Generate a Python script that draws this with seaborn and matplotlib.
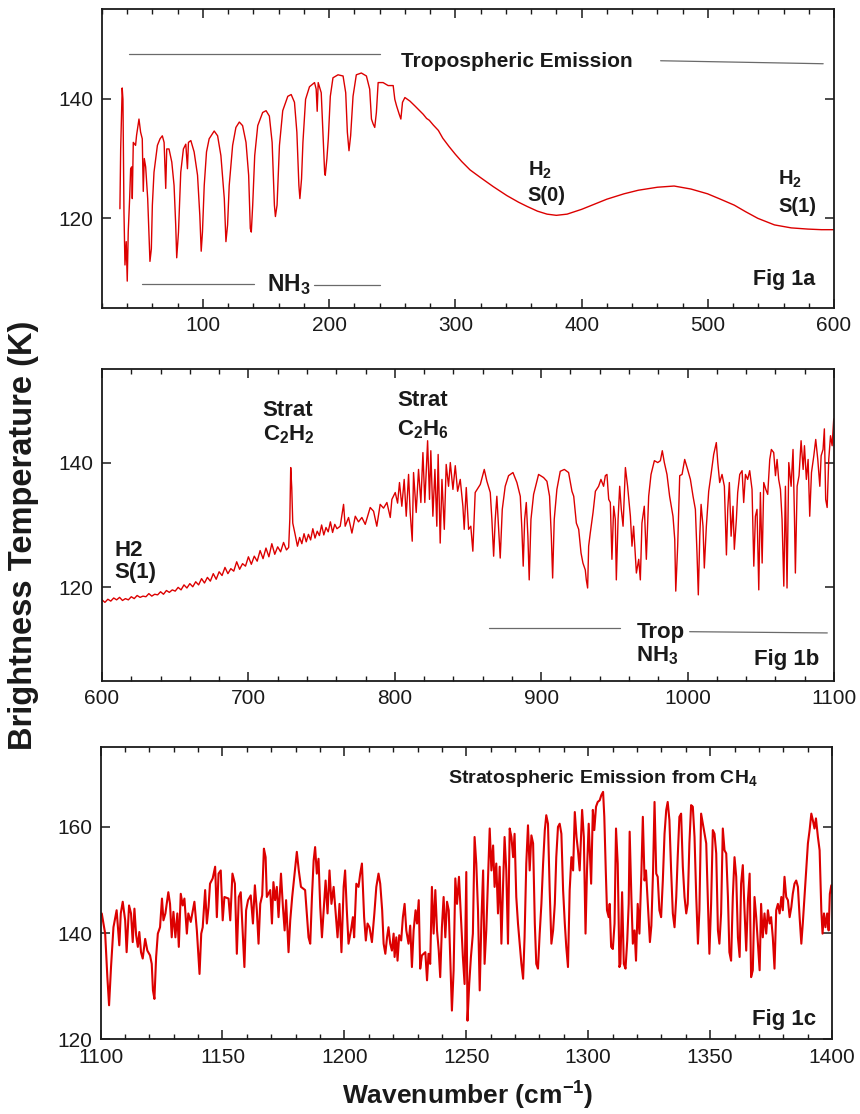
import matplotlib
matplotlib.use("Agg")
import matplotlib.pyplot as plt
from matplotlib.ticker import MultipleLocator, FixedLocator
import seaborn as sns

# ---------------------------------------------------------------------------
# Spectrum samples (wavenumber in cm^-1, brightness temperature in K)
# ---------------------------------------------------------------------------

# Fig 1a: far-infrared, NH3 rotational lines and the H2 S(0)/S(1) region
wn_a = [34.2, 34.8, 35.5, 36.0, 36.6, 37.4, 38.2, 39.2, 40.0, 40.8, 41.9, 42.7,
        43.5, 44.0, 44.8, 46.6, 47.4, 49.3, 50.6, 51.9, 52.7, 53.5, 54.6, 56.2,
        57.2, 58.0, 59.1, 59.9, 61.2, 63.9, 66.0, 67.8, 69.2, 70.5, 71.3, 73.1,
        75.3, 77.1, 78.4, 79.2, 80.6, 82.4, 84.5, 86.4, 87.7, 88.5, 90.4, 93.0,
        95.7, 97.5, 98.6, 99.6, 101.0, 102.8, 104.9, 108.9, 111.6, 114.2, 116.9,
        118.2, 119.5, 120.8, 123.5, 126.1, 128.8, 131.4, 134.1, 136.2, 137.5,
        138.3, 139.4, 141.0, 143.4, 147.3, 150.0, 152.6, 154.8, 156.6, 157.4,
        158.7, 160.6, 163.2, 167.2, 169.9, 172.5, 174.4, 176.0, 176.8, 178.1,
        179.2, 181.3, 184.4, 188.4, 189.7, 190.5, 191.3, 193.7, 195.0, 196.4,
        196.9, 198.2, 199.3, 200.9, 203.0, 207.0, 211.0, 213.1, 214.4, 215.7,
        217.0, 218.9, 221.5, 225.5, 229.5, 232.1, 233.5, 234.8, 236.1, 237.4,
        238.8, 242.7, 246.7, 250.7, 252.0, 253.4, 255.5, 256.8, 258.1, 260.0,
        264.0, 267.9, 274.5, 277.2, 279.3, 282.5, 286.5, 290.0, 295.0, 300.0,
        305.0, 311.6, 320.0, 330.0, 340.8, 350.0, 356.7, 365.0, 372.6, 380.0,
        388.5, 400.0, 407.1, 420.0, 433.6, 445.0, 460.1, 473.3, 486.6, 499.8,
        510.0, 521.0, 530.0, 539.6, 552.8, 566.1, 579.3, 590.0, 600.0]
tb_a = [121.6, 131.6, 137.4, 141.8, 139.9, 121.1, 112.2, 116.1, 109.5, 117.8,
        123.3, 128.3, 128.6, 123.3, 132.7, 132.2, 133.9, 136.6, 134.4, 133.3,
        124.5, 130.0, 128.6, 123.3, 117.7, 112.8, 114.9, 122.2, 127.7, 132.2,
        133.3, 133.8, 132.7, 125.0, 131.6, 131.6, 129.4, 125.5, 118.9, 113.4,
        117.7, 127.7, 131.6, 132.4, 128.3, 132.7, 133.0, 131.1, 127.2, 120.5,
        114.5, 117.7, 125.5, 131.1, 133.3, 134.6, 133.8, 130.5, 123.3, 116.1,
        118.9, 125.5, 132.2, 135.2, 136.1, 135.5, 132.7, 127.2, 118.3, 117.7,
        122.2, 130.5, 135.5, 137.7, 138.0, 137.1, 132.7, 122.2, 120.3, 122.2,
        132.2, 138.0, 140.4, 140.7, 139.4, 134.4, 125.5, 123.3, 126.6, 132.7,
        139.9, 142.0, 142.7, 141.6, 137.9, 142.7, 141.0, 134.4, 127.7, 127.2,
        130.0, 133.3, 140.4, 143.5, 144.0, 143.8, 141.0, 134.4, 131.3, 133.8,
        140.4, 144.0, 144.3, 143.8, 141.6, 136.6, 135.8, 135.2, 137.7, 142.7,
        142.7, 142.2, 142.2, 139.9, 138.8, 137.4, 136.6, 139.4, 140.2, 139.6,
        138.8, 137.4, 136.7, 136.4, 135.6, 134.7, 133.4, 132.0, 130.7,
        129.5, 128.1, 126.8, 125.3, 123.8, 122.7, 122.0, 121.2, 120.7, 120.5,
        120.7, 121.5, 122.1, 123.2, 124.1, 124.7, 125.2, 125.4, 124.9, 124.1,
        123.2, 122.2, 121.1, 120.0, 118.9, 118.4, 118.2, 118.1, 118.1]

# Fig 1b: mid-infrared, C2H2 / C2H6 emission and tropospheric NH3 absorption
wn_b = [600.0, 602.0, 604.0, 606.0, 608.0, 610.0, 612.0, 614.0, 616.0, 618.0,
        620.0, 622.0, 624.0, 626.0, 628.0, 630.0, 632.0, 634.0, 636.0, 638.0,
        640.0, 642.0, 644.0, 646.0, 648.0, 650.0, 652.0, 654.0, 656.0, 658.0,
        660.0, 662.0, 664.0, 666.0, 668.0, 670.0, 672.0, 674.0, 676.0, 678.0,
        680.0, 682.0, 684.0, 686.0, 688.0, 690.0, 692.0, 694.0, 696.0, 698.0,
        700.0, 702.0, 704.0, 706.0, 708.0, 710.0, 712.0, 714.0, 716.0, 718.0,
        720.0, 722.0, 724.0, 726.0, 727.5, 728.3, 728.9, 729.6, 730.3, 731.9,
        733.5, 735.0, 736.5, 738.0, 739.5, 741.0, 742.5, 744.0, 745.5, 747.0,
        748.5, 750.0, 751.5, 753.0, 754.5, 756.0, 757.5, 759.0, 760.5, 762.7,
        765.0, 766.1, 768.4, 770.7, 773.0, 775.2, 777.5, 779.8, 783.2, 785.5,
        787.7, 790.0, 792.3, 794.6, 796.9, 798.0, 800.3, 801.9, 803.2, 804.8,
        806.4, 807.8, 809.4, 810.5, 811.9, 812.8, 814.6, 816.2, 817.8, 819.2,
        820.5, 822.4, 823.7, 824.6, 826.0, 827.4, 828.7, 829.6, 831.0, 832.2,
        833.8, 835.1, 836.7, 837.9, 839.7, 841.3, 842.9, 844.7, 846.5, 847.4,
        848.8, 850.4, 851.9, 853.3, 854.9, 858.4, 861.1, 862.9, 865.2, 866.3,
        867.5, 868.6, 869.7, 870.9, 872.0, 873.4, 875.4, 877.7, 880.7, 883.4,
        885.7, 886.8, 887.7, 888.7, 889.8, 890.9, 891.8, 893.0, 894.8, 898.2,
        901.6, 903.9, 905.7, 906.9, 907.8, 908.9, 910.7, 913.0, 915.8, 918.7,
        921.0, 922.2, 924.0, 925.6, 927.2, 928.5, 930.1, 930.8, 931.7, 932.4,
        933.5, 935.4, 937.0, 939.2, 940.8, 942.6, 943.8, 944.9, 946.1, 947.2,
        948.3, 949.5, 950.6, 951.3, 952.5, 953.6, 954.7, 955.9, 957.5, 959.0,
        960.9, 962.0, 963.1, 965.0, 966.6, 967.7, 968.8, 970.4, 971.8, 973.4,
        975.0, 977.3, 979.6, 981.4, 982.7, 984.1, 985.9, 987.7, 990.0, 991.2,
        991.9, 993.2, 994.6, 996.2, 998.0, 1000.0, 1001.9, 1003.7, 1005.3,
        1006.4, 1007.3, 1008.3, 1009.2, 1010.5, 1011.4, 1012.8, 1014.4, 1016.0,
        1017.8, 1019.6, 1020.6, 1021.9, 1023.5, 1025.1, 1026.5, 1027.4, 1028.5,
        1029.7, 1031.0, 1031.9, 1033.3, 1034.2, 1035.6, 1037.2, 1038.3, 1039.5,
        1041.0, 1042.4, 1044.0, 1045.2, 1046.3, 1047.4, 1048.6, 1049.7, 1050.9,
        1052.0, 1053.4, 1054.7, 1056.1, 1057.2, 1058.8, 1060.0, 1061.1, 1062.2,
        1063.4, 1064.5, 1065.7, 1066.8, 1067.9, 1069.1, 1070.7, 1072.0, 1073.0,
        1073.6, 1074.8, 1076.1, 1077.5, 1078.9, 1079.8, 1081.1, 1082.3, 1083.4,
        1084.6, 1086.2, 1087.5, 1088.9, 1090.3, 1091.2, 1092.5, 1093.4, 1094.3,
        1095.3, 1096.4, 1097.6, 1098.7, 1099.8]
tb_b = [118.0, 117.6, 118.1, 117.8, 118.3, 118.0, 118.4, 117.9, 118.2, 118.0,
        118.5, 118.2, 118.7, 118.4, 118.6, 118.5, 119.0, 118.6, 118.9, 118.8,
        119.3, 118.9, 119.5, 119.2, 119.6, 119.4, 120.0, 119.6, 120.4, 119.9,
        120.6, 120.1, 120.9, 120.4, 121.4, 120.7, 121.6, 121.0, 122.2, 121.3,
        122.5, 121.9, 123.2, 122.2, 123.0, 122.6, 124.1, 122.9, 123.8, 123.4,
        124.9, 123.7, 125.0, 124.2, 125.9, 124.6, 126.3, 124.9, 127.0, 125.3,
        126.5, 125.7, 127.2, 126.0, 126.4, 131.0, 139.2, 136.0, 130.3, 128.5,
        126.6, 128.0, 127.0, 128.6, 127.3, 128.5, 127.6, 129.4, 127.9, 129.0,
        128.3, 130.0, 128.4, 129.6, 128.9, 130.5, 128.8, 130.1, 129.4, 129.8,
        133.3, 129.8, 131.2, 128.7, 131.4, 130.5, 131.2, 130.1, 132.8, 132.2,
        129.8, 133.3, 132.7, 133.6, 131.2, 134.1, 135.2, 133.5, 136.8, 133.0,
        137.3, 131.4, 138.1, 132.0, 127.4, 138.4, 132.0, 138.9, 133.6, 141.6,
        133.6, 143.5, 134.1, 141.9, 131.4, 138.9, 129.8, 141.3, 127.1, 137.3,
        129.3, 139.7, 136.2, 140.0, 135.7, 139.5, 135.4, 137.3, 133.0, 129.3,
        136.0, 129.3, 129.8, 125.8, 135.2, 136.5, 138.9, 137.0, 135.2, 130.9,
        125.0, 130.9, 134.6, 129.3, 124.7, 132.5, 136.2, 137.9, 138.4, 136.8,
        134.6, 129.3, 123.4, 130.9, 133.6, 128.2, 121.2, 130.9, 134.9, 138.1,
        137.6, 137.0, 134.6, 128.2, 121.5, 130.9, 135.7, 138.6, 138.9, 138.4,
        135.4, 134.6, 130.3, 129.3, 125.5, 123.9, 122.8, 121.2, 119.9, 126.6,
        128.7, 132.0, 135.4, 136.2, 137.3, 136.2, 137.9, 138.1, 134.1, 133.6,
        124.5, 133.0, 130.9, 121.2, 130.9, 136.2, 132.5, 129.8, 139.2, 136.2,
        131.4, 126.6, 129.8, 122.3, 124.5, 121.2, 130.3, 133.0, 124.5, 134.6,
        138.1, 140.3, 140.0, 140.3, 141.9, 140.0, 138.1, 134.6, 131.4, 127.7,
        119.4, 126.6, 137.9, 138.1, 140.5, 138.9, 137.3, 134.6, 132.5,
        125.5, 118.8, 128.2, 133.3, 129.8, 123.1, 129.8, 135.4, 138.1,
        141.3, 143.2, 140.0, 136.8, 138.1, 136.2, 125.2, 132.5, 136.8,
        128.2, 133.0, 126.1, 130.9, 135.2, 138.1, 138.7, 133.6, 138.1,
        137.3, 138.7, 135.7, 123.4, 131.4, 132.5, 119.6, 135.2, 123.9,
        136.8, 135.7, 134.9, 140.5, 142.1, 141.6, 137.9, 140.5, 137.3,
        135.7, 130.9, 120.2, 136.2, 119.9, 140.0, 136.2, 142.1, 130.9,
        122.3, 136.2, 137.9, 143.5, 138.9, 142.7, 137.3, 140.5, 131.4,
        138.4, 141.1, 143.7, 140.5, 136.2, 141.1, 142.1, 145.4, 134.1,
        132.8, 140.5, 144.3, 142.7, 147.0]

# Fig 1c: CH4 band emission from the stratosphere
wn_c = [1100.5, 1101.9, 1102.8, 1103.5, 1104.3, 1105.3, 1106.6, 1107.7, 1108.3,
        1109.1, 1110.1, 1110.7, 1111.7, 1112.5, 1113.2, 1113.9, 1114.6, 1115.3,
        1115.9, 1116.6, 1117.3, 1118.3, 1119.2, 1120.3, 1121.0, 1121.5, 1122.1,
        1122.8, 1123.5, 1124.4, 1125.2, 1125.8, 1126.6, 1127.8, 1128.5, 1129.2,
        1129.9, 1130.7, 1131.5, 1132.1, 1132.9, 1133.7, 1134.4, 1135.4, 1136.0,
        1137.0, 1138.5, 1139.5, 1140.6, 1141.3, 1141.9, 1142.9, 1143.6, 1144.3,
        1144.9, 1146.0, 1147.0, 1147.7, 1148.4, 1149.3, 1150.1, 1150.8, 1152.5,
        1153.2, 1154.1, 1155.1, 1155.9, 1156.7, 1157.5, 1158.2, 1159.0, 1159.7,
        1160.5, 1161.6, 1162.5, 1163.3, 1164.1, 1164.8, 1165.5, 1166.3, 1167.0,
        1167.7, 1168.2, 1169.6, 1170.3, 1170.9, 1171.6, 1172.3, 1173.0, 1174.0,
        1174.8, 1175.5, 1176.1, 1177.1, 1177.8, 1178.6, 1179.4, 1180.5, 1181.3,
        1182.2, 1183.9, 1184.6, 1185.3, 1186.0, 1186.7, 1187.4, 1188.0, 1188.7,
        1189.4, 1190.1, 1190.8, 1191.5, 1192.3, 1193.1, 1193.9, 1194.7, 1195.6,
        1197.2, 1198.0, 1198.8, 1199.7, 1200.3, 1201.0, 1201.7, 1202.7, 1203.5,
        1204.0, 1204.9, 1205.8, 1206.5, 1207.2, 1208.1, 1208.8, 1209.5, 1210.3,
        1211.3, 1212.3, 1213.1, 1214.0, 1214.7, 1215.5, 1216.1, 1216.8, 1217.5,
        1218.1, 1218.8, 1219.5, 1220.2, 1220.6, 1221.3, 1221.8, 1222.5, 1223.3,
        1224.0, 1224.7, 1225.4, 1226.3, 1227.0, 1227.7, 1228.4, 1229.2, 1229.8,
        1230.5, 1231.1, 1231.8, 1233.2, 1233.9, 1234.5, 1235.2, 1235.9, 1236.6,
        1237.3, 1238.0, 1238.7, 1239.3, 1240.0, 1240.7, 1241.4, 1242.1, 1242.8,
        1243.4, 1244.1, 1244.8, 1245.5, 1246.2, 1247.0, 1247.8, 1248.6, 1249.3,
        1250.0, 1250.5, 1251.2, 1251.9, 1252.7, 1253.4, 1254.1, 1254.8, 1255.5,
        1256.2, 1256.9, 1257.5, 1258.2, 1258.9, 1259.6, 1260.3, 1261.0, 1261.6,
        1262.3, 1263.0, 1263.7, 1264.4, 1265.1, 1265.7, 1266.4, 1267.1, 1267.8,
        1268.5, 1269.2, 1269.8, 1270.5, 1271.2, 1271.9, 1272.6, 1273.3, 1273.9,
        1274.6, 1275.3, 1276.0, 1276.7, 1277.4, 1278.1, 1278.7, 1279.4, 1280.1,
        1280.8, 1281.5, 1282.2, 1282.8, 1283.5, 1284.2, 1284.9, 1285.6, 1286.3,
        1286.9, 1287.6, 1288.3, 1289.0, 1289.7, 1290.4, 1291.0, 1291.7, 1292.4,
        1293.1, 1293.8, 1294.5, 1295.2, 1295.8, 1296.5, 1297.5, 1298.2, 1298.9,
        1299.5, 1300.2, 1301.2, 1301.9, 1302.5, 1303.2, 1303.9, 1304.7, 1305.4,
        1306.1, 1306.6, 1307.2, 1307.7, 1308.4, 1308.8, 1309.4, 1310.1, 1310.8,
        1311.4, 1312.1, 1312.8, 1313.2, 1313.9, 1314.6, 1315.3, 1316.0, 1316.6,
        1317.0, 1317.7, 1318.3, 1319.0, 1319.6, 1320.3, 1321.0, 1321.8, 1322.4,
        1323.1, 1323.7, 1324.6, 1325.3, 1325.9, 1326.6, 1327.2, 1327.9, 1328.5,
        1329.2, 1329.9, 1330.6, 1331.3, 1332.0, 1332.6, 1333.3, 1334.0, 1334.7,
        1335.4, 1336.1, 1336.7, 1337.4, 1338.1, 1338.8, 1339.5, 1340.2, 1340.8,
        1341.5, 1342.2, 1342.9, 1343.6, 1344.3, 1345.0, 1345.6, 1346.3, 1347.0,
        1347.7, 1348.4, 1349.1, 1349.7, 1350.4, 1351.1, 1351.8, 1352.5, 1353.2,
        1353.8, 1354.5, 1355.2, 1355.9, 1356.6, 1357.3, 1357.9, 1358.6, 1359.3,
        1360.0, 1360.7, 1361.4, 1362.1, 1362.7, 1363.4, 1364.1, 1364.8, 1365.5,
        1366.2, 1366.8, 1367.5, 1368.2, 1368.9, 1369.6, 1370.3, 1370.9, 1371.6,
        1372.3, 1373.0, 1373.7, 1374.4, 1375.0, 1375.7, 1376.4, 1377.1, 1377.8,
        1378.5, 1379.2, 1379.8, 1380.5, 1381.2, 1381.9, 1382.6, 1383.3, 1383.9,
        1384.6, 1385.3, 1386.0, 1386.7, 1387.4, 1388.0, 1388.7, 1389.4, 1390.1,
        1390.8, 1391.5, 1392.1, 1392.8, 1393.4, 1394.2, 1394.9, 1395.6, 1396.1,
        1396.7, 1397.3, 1398.0, 1398.6, 1399.1, 1399.7, 1400.2]
tb_c = [143.7, 139.9, 131.7, 126.4, 133.6, 141.1, 144.3, 137.7, 143.7,
        145.9, 142.4, 136.4, 145.2, 143.7, 138.3, 144.6, 139.6, 137.4,
        140.2, 136.4, 135.2, 138.9, 136.7, 135.8, 134.2, 129.2, 127.6,
        135.5, 139.9, 141.1, 146.5, 142.4, 143.7, 147.7, 145.5, 139.2,
        144.0, 139.2, 143.7, 137.4, 147.4, 145.2, 146.5, 139.9, 143.7,
        142.1, 145.9, 140.5, 132.3, 139.9, 141.1, 148.1, 141.8, 144.9,
        149.3, 150.3, 152.5, 143.0, 151.2, 151.8, 142.4, 146.8, 146.5,
        142.4, 151.2, 149.3, 136.1, 146.8, 147.7, 141.1, 133.6, 144.3,
        146.2, 147.1, 141.8, 149.0, 144.3, 138.0, 145.5, 147.1, 155.9,
        154.3, 146.8, 148.1, 141.8, 149.6, 146.2, 148.7, 143.0, 151.2,
        144.9, 140.5, 146.2, 136.4, 142.4, 146.8, 150.3, 155.3, 151.8,
        148.7, 148.1, 143.7, 139.2, 138.0, 146.8, 153.7, 156.2, 151.2,
        154.0, 144.9, 139.2, 144.3, 149.9, 143.7, 151.8, 145.5, 148.7,
        139.2, 145.5, 136.4, 148.7, 151.8, 144.3, 138.0, 140.5, 143.0,
        139.2, 149.3, 148.7, 151.2, 153.1, 143.0, 138.6, 141.8, 141.1,
        138.3, 143.7, 148.7, 151.2, 149.3, 144.3, 138.0, 136.1, 139.2,
        141.1, 138.0, 136.7, 139.9, 135.5, 139.2, 134.8, 139.6, 138.6,
        143.0, 145.5, 140.5, 138.0, 141.4, 133.6, 140.5, 144.3, 141.8,
        146.2, 133.3, 135.8, 136.4, 131.1, 136.1, 134.2, 148.7, 139.9,
        148.1, 140.5, 136.7, 131.7, 141.1, 146.8, 139.2, 145.9, 144.3,
        135.5, 125.4, 133.0, 150.3, 145.5, 150.6, 143.0, 135.5, 130.4,
        151.5, 123.5, 130.4, 135.5, 139.9, 158.1, 153.1, 144.3, 129.2,
        142.4, 151.8, 134.2, 140.5, 149.9, 159.7, 151.8, 156.5, 148.7,
        153.1, 143.7, 152.5, 138.0, 149.3, 158.1, 151.8, 138.0, 159.7,
        158.1, 154.3, 158.7, 146.8, 141.8, 138.0, 134.2, 131.4, 139.2,
        153.1, 160.3, 151.8, 158.4, 156.9, 141.8, 134.2, 133.3, 139.9,
        145.5, 153.1, 159.4, 162.2, 160.6, 148.1, 138.0, 140.5, 145.5,
        154.3, 160.0, 160.6, 158.7, 148.1, 141.8, 137.4, 133.6, 148.1,
        154.3, 151.8, 162.8, 158.1, 155.6, 151.8, 163.2, 158.1, 139.9,
        151.8, 160.6, 149.3, 163.2, 159.4, 163.8, 164.7, 165.0, 166.0,
        166.6, 161.9, 151.8, 144.3, 143.0, 145.5, 137.4, 137.0, 141.8,
        159.7, 153.1, 133.6, 134.2, 147.7, 134.2, 133.3, 138.6, 145.5,
        159.1, 146.8, 138.0, 140.5, 134.8, 145.5, 139.9, 151.2, 161.9,
        149.9, 151.8, 144.3, 138.3, 141.4, 151.8, 164.7, 151.2, 150.6,
        144.3, 143.0, 149.9, 158.7, 163.2, 164.7, 161.3, 151.8, 143.7,
        141.1, 146.8, 154.3, 161.9, 162.5, 152.5, 146.8, 143.7, 145.5,
        156.9, 164.1, 163.8, 158.1, 146.8, 138.0, 144.3, 162.5, 160.6,
        158.7, 156.9, 145.5, 136.1, 145.5, 159.4, 158.7, 155.0, 140.5,
        138.0, 143.7, 159.7, 155.6, 155.0, 146.8, 136.4, 134.8, 146.8,
        154.3, 150.6, 139.2, 135.5, 149.3, 152.8, 144.3, 136.7, 146.2,
        151.2, 131.7, 133.0, 146.8, 143.0, 138.0, 133.0, 145.5, 139.2,
        143.7, 139.9, 144.3, 141.8, 143.0, 139.2, 133.3, 144.3, 145.5,
        143.7, 146.8, 144.3, 150.6, 146.8, 146.2, 143.0, 144.9, 147.4,
        149.3, 149.9, 148.7, 143.0, 138.0, 141.8, 146.8, 151.8, 156.9,
        159.4, 162.5, 161.3, 159.7, 161.6, 158.1, 155.6, 144.3, 139.9,
        143.7, 141.1, 143.7, 140.5, 147.4, 149.0, 147.4]

# Axis tick values
yticks_ab = [120, 140]
yticks_c = [120, 140, 160]

RED = "#dc0000"
INK = "#1a1a1a"
GUIDE = "#6a6a6a"

sns.set_style("ticks")
plt.rcParams["font.family"] = ["Liberation Sans", "DejaVu Sans"]
plt.rcParams["mathtext.fontset"] = "custom"
plt.rcParams["mathtext.rm"] = "Liberation Sans:bold"
plt.rcParams["mathtext.it"] = "Liberation Sans:bold"
plt.rcParams["mathtext.bf"] = "Liberation Sans:bold"
plt.rcParams["mathtext.default"] = "rm"

fig = plt.figure(figsize=(8.6, 11.14), dpi=100)
ax_a = fig.add_axes([0.1186, 0.7235, 0.8512, 0.2684])
ax_b = fig.add_axes([0.1186, 0.3887, 0.8512, 0.2801])
ax_c = fig.add_axes([0.1169, 0.0671, 0.8506, 0.2621])


def style_axis(ax, xlim, ylim, xmajor, xminor, yticks):
    ax.set_xlim(*xlim)
    ax.set_ylim(*ylim)
    ax.xaxis.set_major_locator(MultipleLocator(xmajor))
    ax.xaxis.set_minor_locator(MultipleLocator(xminor))
    ax.yaxis.set_major_locator(FixedLocator(yticks))
    ax.tick_params(which="both", direction="in", top=True, right=True,
                   color=INK, labelcolor=INK)
    ax.tick_params(which="major", length=6.5, width=1.1, labelsize=15, pad=6)
    ax.tick_params(which="minor", length=3.8, width=1.0)
    for spine in ax.spines.values():
        spine.set_linewidth(1.3)
        spine.set_color(INK)
    ax.set_xlabel("")
    ax.set_ylabel("")


def bold(ax, x, y, s, size, ha="left"):
    ax.text(x, y, s, ha=ha, va="baseline", fontsize=size,
            fontweight="bold", color=INK)


# ---- Fig 1a ----------------------------------------------------------------
sns.lineplot(x=wn_a, y=tb_a, ax=ax_a, color=RED, lw=1.0,
             estimator=None, sort=False)
style_axis(ax_a, (20, 600), (105, 155), 100, 20, yticks_ab)
ax_a.plot([41.3, 240.0], [147.5, 147.5], color=GUIDE, lw=0.9)
ax_a.plot([462.6, 591.4], [146.35, 145.85], color=GUIDE, lw=0.9)
bold(ax_a, 349.0, 145.25, "Tropospheric Emission", 15, ha="center")
ax_a.plot([51.9, 140.7], [109.1, 109.1], color=GUIDE, lw=0.9)
ax_a.plot([187.6, 240.6], [108.8, 108.8], color=GUIDE, lw=0.9)
bold(ax_a, 167.9, 107.9, "NH$_3$", 16.5, ha="center")
bold(ax_a, 357.2, 127.2, "H$_2$", 14.5)
bold(ax_a, 357.2, 122.9, "S(0)", 14.5)
bold(ax_a, 555.9, 125.6, "H$_2$", 14.5)
bold(ax_a, 555.9, 121.1, "S(1)", 14.5)
bold(ax_a, 585.0, 108.9, "Fig 1a", 15.5, ha="right")

# ---- Fig 1b ----------------------------------------------------------------
sns.lineplot(x=wn_b, y=tb_b, ax=ax_b, color=RED, lw=1.0,
             estimator=None, sort=False)
style_axis(ax_b, (600, 1100), (105, 155), 100, 20, yticks_ab)
bold(ax_b, 608.2, 125.0, "H2", 16)
bold(ax_b, 608.2, 121.5, "S(1)", 16)
bold(ax_b, 709.8, 147.5, "Strat", 16)
bold(ax_b, 709.8, 143.5, "C$_2$H$_2$", 16)
bold(ax_b, 801.8, 149.1, "Strat", 16)
bold(ax_b, 801.8, 144.4, "C$_2$H$_6$", 16)
ax_b.plot([864.1, 954.1], [113.5, 113.5], color=GUIDE, lw=0.9)
ax_b.plot([1001.4, 1095.4], [112.9, 112.7], color=GUIDE, lw=0.9)
bold(ax_b, 965.0, 111.9, "Trop", 16)
bold(ax_b, 965.0, 108.1, "NH$_3$", 16)
bold(ax_b, 1089.6, 107.6, "Fig 1b", 16, ha="right")

# ---- Fig 1c ----------------------------------------------------------------
sns.lineplot(x=wn_c, y=tb_c, ax=ax_c, color=RED, lw=1.5,
             estimator=None, sort=False)
style_axis(ax_c, (1100, 1400), (120, 175), 50, 10, yticks_c)
bold(ax_c, 1242.7, 168.3, "Stratospheric Emission from CH$_4$", 14)
bold(ax_c, 1393.6, 122.6, "Fig 1c", 16, ha="right")

# ---- shared axis titles ----------------------------------------------------
fig.text(0.0279, 0.5197, "Brightness Temperature (K)", rotation=90,
         ha="center", va="center", fontsize=23.5, fontweight="bold",
         color=INK)
fig.text(0.5436, 0.0087, "Wavenumber (cm$^{-1}$)", ha="center",
         va="baseline", fontsize=19, fontweight="bold", color=INK)

fig.savefig("out.png", dpi=100)
